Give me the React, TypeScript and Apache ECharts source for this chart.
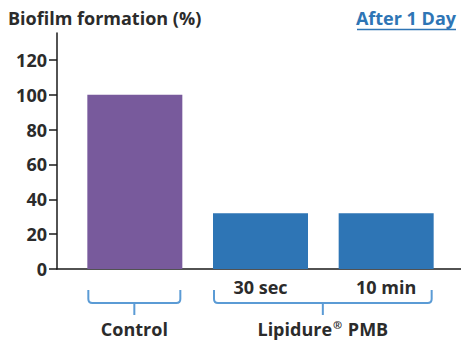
import React, { useEffect, useRef } from "react";
import * as echarts from "echarts";

// Bars: biofilm formation relative to control, after 1 day
const categories = ["Control", "30 sec", "10 min"];
const values = [100, 32, 32];
const barColors = ["#785a9c", "#2e75b5", "#2e75b5"];
// Bracketed groups under the axis (indices into categories)
const groups = [
  { name: "Control", from: 0, to: 0 },
  { name: "Lipidure{sup|®} PMB", from: 1, to: 2 },
];
const yTicks = [0, 20, 40, 60, 80, 100, 120];

const FONT = "'Open Sans', Lato, sans-serif";
const TEXT = "#2b2b2b";
const BLUE = "#2e75b5";
const BRACE = "#5b9bd5";
const AXIS = "#1a1a1a";

const Brace = echarts.graphic.extendShape({
  shape: { x1: 0, x2: 0, yTop: 0, yMid: 0, xStem: 0, yBottom: 0, r: 4 },
  buildPath(ctx: any, s: any) {
    ctx.moveTo(s.x1, s.yTop);
    ctx.lineTo(s.x1, s.yMid - s.r);
    ctx.quadraticCurveTo(s.x1, s.yMid, s.x1 + s.r, s.yMid);
    ctx.lineTo(s.x2 - s.r, s.yMid);
    ctx.quadraticCurveTo(s.x2, s.yMid, s.x2, s.yMid - s.r);
    ctx.lineTo(s.x2, s.yTop);
    ctx.moveTo(s.xStem, s.yMid);
    ctx.lineTo(s.xStem, s.yBottom);
  },
});
echarts.graphic.registerShape("brace", Brace);

export default function App() {
  const ref = useRef<HTMLDivElement>(null);

  useEffect(() => {
    if (!ref.current) return;
    const chart = echarts.init(ref.current, null, { renderer: "svg" });
    const yMax = 135.5;
    const barWidth = 95;
    const labelFont = { fontFamily: FONT, fontWeight: "bold" as const, fontSize: 18, color: TEXT };

    chart.setOption({
      animation: false,
      backgroundColor: "#ffffff",
      grid: [
        { left: 57, right: 0, top: 33, height: 236 },
        { left: 72, right: 12, top: 33, height: 236 },
      ],
      xAxis: [
        {
          type: "value",
          gridIndex: 0,
          min: 0,
          max: 1,
          axisLine: { show: true, lineStyle: { color: AXIS, width: 1.5 } },
          axisTick: { show: false },
          axisLabel: { show: false },
          splitLine: { show: false },
        },
        {
          type: "category",
          gridIndex: 1,
          data: categories,
          axisLine: { show: false },
          axisTick: { show: false },
          axisLabel: {
            ...labelFont,
            margin: 18,
            verticalAlign: "middle",
            formatter: (v: string, i: number) => (i === 0 ? "" : v),
          },
        },
      ],
      yAxis: [
        {
          type: "value",
          gridIndex: 0,
          min: 0,
          max: yMax,
          interval: 20,
          axisLine: { show: true, lineStyle: { color: AXIS, width: 1.5 } },
          axisTick: {
            show: true,
            length: 8,
            customValues: yTicks,
            lineStyle: { color: AXIS, width: 1.5 },
          },
          axisLabel: {
            ...labelFont,
            customValues: yTicks,
            margin: 10,
          },
          splitLine: { show: false },
        },
        {
          type: "value",
          gridIndex: 1,
          min: 0,
          max: yMax,
          show: false,
          splitLine: { show: false },
        },
      ],
      series: [
        {
          type: "bar",
          xAxisIndex: 1,
          yAxisIndex: 1,
          barWidth,
          data: values.map((v, i) => ({ value: v, itemStyle: { color: barColors[i] } })),
        },
      ],
    });

    // Title texts, then brackets + group names positioned from the category axis
    const toX = (i: number) => chart.convertToPixel({ xAxisIndex: 1 }, categories[i]) as number;
    const baseY = chart.convertToPixel({ yAxisIndex: 1 }, 0) as number;

    const graphics: any[] = [
      {
        type: "text",
        x: 8,
        y: 18,
        style: {
          text: "Biofilm formation (%)",
          font: `bold 18px ${FONT}`,
          fill: TEXT,
          verticalAlign: "middle",
        },
      },
      {
        type: "text",
        x: 456,
        y: 18,
        style: {
          text: "After 1 Day",
          font: `bold 18px ${FONT}`,
          fill: BLUE,
          align: "right",
          verticalAlign: "middle",
        },
      },
      {
        type: "line",
        shape: { x1: 357, y1: 29.5, x2: 456, y2: 29.5 },
        style: { stroke: BLUE, lineWidth: 1.5 },
      },
    ];

    groups.forEach((g) => {
      const x1 = toX(g.from) - barWidth / 2 + 1;
      const x2 = toX(g.to) + barWidth / 2 - 2;
      const mid = (x1 + x2) / 2;
      graphics.push({
        type: "brace",
        shape: {
          x1,
          x2,
          xStem: mid,
          yTop: baseY + 21,
          yMid: baseY + 34,
          yBottom: baseY + 46,
          r: 4,
        },
        style: { stroke: BRACE, lineWidth: 2, fill: null },
      });
      graphics.push({
        type: "text",
        x: mid,
        y: baseY + 60,
        style: {
          text: g.name,
          font: `bold 18px ${FONT}`,
          fill: TEXT,
          align: "center",
          verticalAlign: "middle",
          rich: {
            sup: {
              fontFamily: FONT,
              fontWeight: "bold",
              fontSize: 11,
              verticalAlign: "top",
              padding: [0, 1, 9, 1],
              fill: TEXT,
            },
          },
        },
      });
    });

    chart.setOption({ graphic: graphics });

    return () => chart.dispose();
  }, []);

  return <div ref={ref} style={{ width: 461, height: 343, position: "absolute", left: 0, top: 0 }} />;
}
